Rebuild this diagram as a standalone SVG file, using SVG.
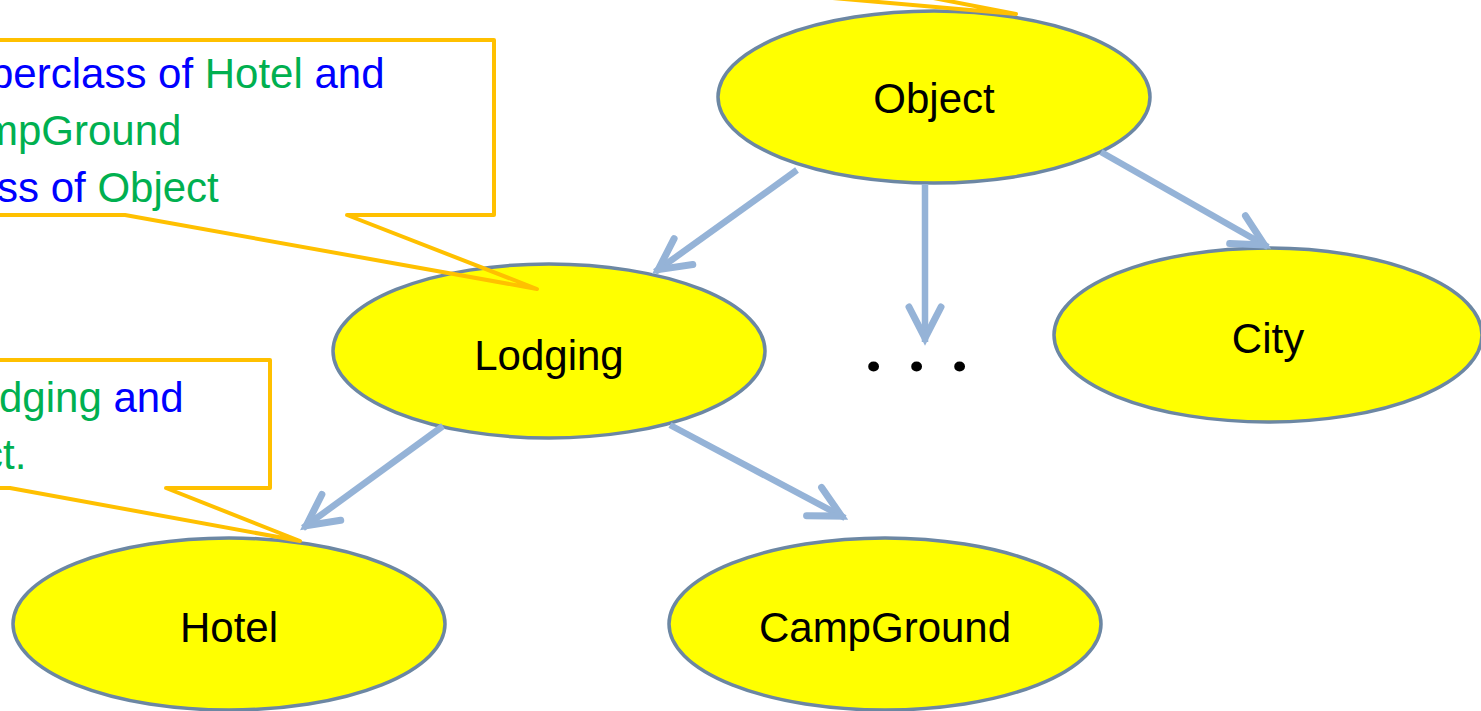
<svg xmlns="http://www.w3.org/2000/svg" width="1481" height="711" viewBox="0 0 1481 711">
<style>
.node{fill:#FFFF00;stroke:#6C87A3;stroke-width:3.5}
.lbl{font-family:"Liberation Sans",Arial,sans-serif;font-size:42px;fill:#000;text-anchor:middle}
.edge{stroke:#95B3D7;stroke-width:6.5;fill:none;stroke-linecap:butt}
.call{fill:none;stroke:#FFC000;stroke-width:4;stroke-linejoin:round}
.ct{font-family:"Liberation Sans",Arial,sans-serif;font-size:42px}
.b{fill:#0000FF}
.g{fill:#00B050}
</style>
<defs>
<marker id="arr" markerUnits="userSpaceOnUse" viewBox="-40 -20 50 40" markerWidth="50" markerHeight="40" refX="4" refY="0" orient="auto" overflow="visible">
<path d="M-31,-16 L0,0 L-31,16" fill="none" stroke="#95B3D7" stroke-width="7" stroke-linecap="round" stroke-linejoin="miter"/>
</marker>
</defs>
<rect width="1481" height="711" fill="#fff"/>
<g id="node-object"><ellipse class="node" cx="934" cy="97" rx="216" ry="86"/><text class="lbl" x="934" y="113">Object</text></g>
<g id="node-lodging"><ellipse class="node" cx="549" cy="351" rx="216" ry="87"/><text class="lbl" x="549" y="370">Lodging</text></g>
<g id="node-city"><ellipse class="node" cx="1268" cy="335" rx="214" ry="87"/><text class="lbl" x="1268" y="353">City</text></g>
<g id="node-hotel"><ellipse class="node" cx="229" cy="624" rx="216" ry="86"/><text class="lbl" x="229" y="642">Hotel</text></g>
<g id="node-campground"><ellipse class="node" cx="885" cy="624" rx="216" ry="86"/><text class="lbl" x="885" y="642">CampGround</text></g>
<g id="node-more"><text x="864 907 950" y="371" font-family="Roboto,sans-serif" font-weight="bold" font-size="68" fill="#000">...</text></g>
<g id="connectors">
<line class="edge" x1="797" y1="170" x2="655" y2="272" marker-end="url(#arr)"/>
<line class="edge" x1="925" y1="184" x2="925" y2="342" marker-end="url(#arr)"/>
<line class="edge" x1="1101" y1="152" x2="1268" y2="247" marker-end="url(#arr)"/>
<line class="edge" x1="443" y1="426" x2="303" y2="528" marker-end="url(#arr)"/>
<line class="edge" x1="670" y1="425" x2="845" y2="518" marker-end="url(#arr)"/>
</g>
<g id="callout-top"><polyline class="call" points="741,-10 1016,14 892,-10"/></g>
<g id="callout-lodging">
<path class="call" d="M-10,40 H494 V215 H347 L537,289 L125,215 H-10"/>
<text class="ct" y="88" x="-10"><tspan class="b">perclass of </tspan><tspan class="g">Hotel</tspan><tspan class="b"> and</tspan></text>
<text class="ct g" y="145" x="-17">mpGround</text>
<text class="ct" y="202" x="-3"><tspan class="b">ss of </tspan><tspan class="g">Object</tspan></text>
</g>
<g id="callout-hotel">
<path class="call" d="M-10,360 H270 V488 H166 L300,541 L10,488 H-10"/>
<text class="ct" y="412" x="-1"><tspan class="g">dging</tspan><tspan class="b"> and</tspan></text>
<text class="ct g" y="469" x="-18">ct.</text>
</g>
</svg>
